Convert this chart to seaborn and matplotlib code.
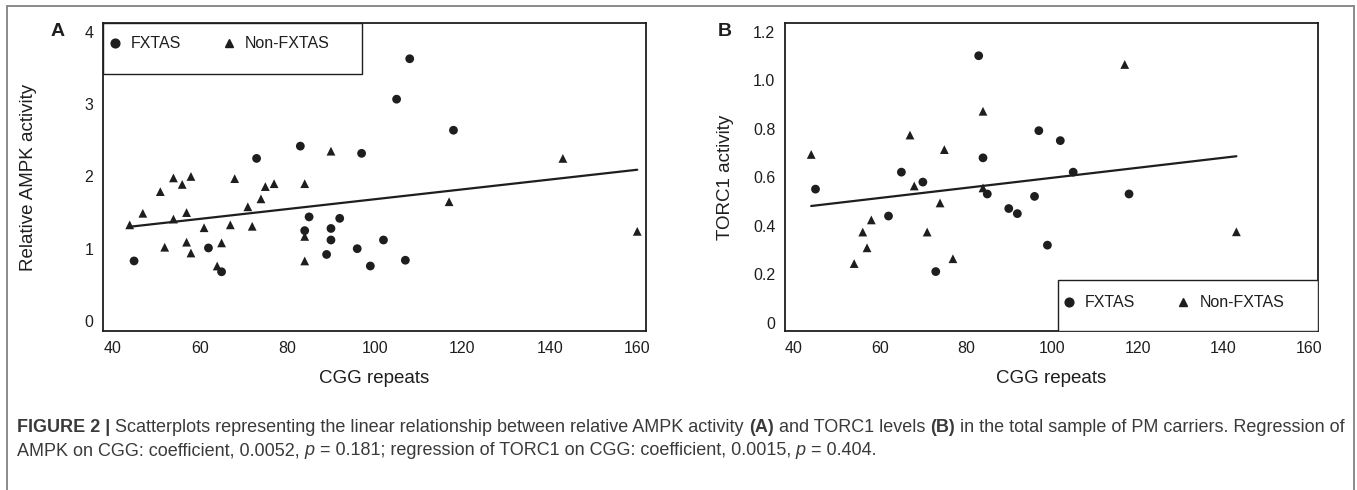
import pandas as pd
import seaborn as sns
from matplotlib import pyplot as plt
from matplotlib.lines import Line2D
from matplotlib.patches import Rectangle

# panel A: relative AMPK activity vs CGG repeats
ampk_fx_cgg = [45, 62, 65, 73, 83, 84, 85, 89, 90, 90, 92, 96, 97, 99, 102, 105, 107, 108, 118]
ampk_fx_val = [0.83, 1.01, 0.68, 2.25, 2.42, 1.25, 1.44, 0.92, 1.28, 1.12, 1.42, 1.00, 2.32, 0.76, 1.12,
               3.07, 0.84, 3.63, 2.64]
ampk_non_cgg = [44, 47, 51, 52, 54, 54, 56, 57, 57, 58, 58, 61, 64, 65, 67, 68, 71, 72, 74, 75, 77, 84, 84, 84,
                90, 117, 143, 160]
ampk_non_val = [1.33, 1.49, 1.79, 1.02, 1.98, 1.41, 1.89, 1.50, 1.09, 2.00, 0.94, 1.29, 0.76, 1.08, 1.33, 1.97,
                1.58, 1.31, 1.69, 1.86, 1.90, 1.90, 1.17, 0.83, 2.35, 1.65, 2.25, 1.24]

# panel B: TORC1 activity vs CGG repeats
torc_fx_cgg = [45, 62, 65, 70, 73, 83, 84, 85, 90, 92, 96, 97, 99, 102, 105, 118]
torc_fx_val = [0.552, 0.441, 0.622, 0.581, 0.212, 1.102, 0.681, 0.532, 0.472, 0.451, 0.522, 0.793, 0.321,
               0.752, 0.622, 0.532]
torc_non_cgg = [44, 54, 56, 57, 58, 67, 68, 71, 74, 75, 77, 84, 84, 117, 143]
torc_non_val = [0.695, 0.245, 0.375, 0.31, 0.425, 0.775, 0.565, 0.375, 0.495, 0.715, 0.265, 0.873, 0.557,
                1.066, 0.376]

groups = ["FXTAS", "Non-FXTAS"]
x_ticks = [40, 60, 80, 100, 120, 140, 160]
ampk_ticks = [0, 1, 2, 3, 4]
torc_ticks = [0, 0.2, 0.4, 0.6, 0.8, 1.0, 1.2]

caption_line1 = [("FIGURE 2 | ", "bold", "normal"),
                 ("Scatterplots representing the linear relationship between relative AMPK activity ", "normal",
                  "normal"),
                 ("(A)", "bold", "normal"),
                 (" and TORC1 levels ", "normal", "normal"),
                 ("(B)", "bold", "normal"),
                 (" in the total sample of PM carriers. Regression of", "normal", "normal")]
caption_line2 = [("AMPK on CGG: coefficient, 0.0052, ", "normal", "normal"),
                 ("p", "normal", "italic"),
                 (" = 0.181; regression of TORC1 on CGG: coefficient, 0.0015, ", "normal", "normal"),
                 ("p", "normal", "italic"),
                 (" = 0.404.", "normal", "normal")]

INK = "#1e1e1e"
W, H = 1357, 490


def make_df(fx_x, fx_y, non_x, non_y):
    return pd.DataFrame({
        "CGG": fx_x + non_x,
        "value": fx_y + non_y,
        "Group": [groups[0]] * len(fx_x) + [groups[1]] * len(non_x),
    })


def draw_panel(ax, df, yticks, ylim, ylabel, ytick_fmt, legend_anchor, legend_box):
    sns.scatterplot(data=df, x="CGG", y="value", style="Group", markers={"FXTAS": "o", "Non-FXTAS": "^"},
                    color=INK, s=40, edgecolor="none", linewidth=0, legend=False, ax=ax)
    sns.regplot(data=df, x="CGG", y="value", scatter=False, ci=None, color=INK,
                line_kws={"linewidth": 1.6}, ax=ax)
    ax.set_xlim(37.9, 162.0)
    ax.set_ylim(*ylim)
    ax.set_xticks(x_ticks)
    ax.set_yticks(yticks)
    ax.set_yticklabels([ytick_fmt(t) for t in yticks])
    ax.tick_params(axis="both", direction="out", length=5, width=1.0, color=INK, labelsize=11.5,
                   labelcolor=INK, pad=2)
    for sp in ax.spines.values():
        sp.set_visible(True)
        sp.set_color(INK)
        sp.set_linewidth(1.3)
    ax.set_xlabel("CGG repeats", fontsize=13.5, color=INK)
    ax.set_ylabel(ylabel, fontsize=13.5, color=INK)
    ax.xaxis.set_label_coords(0.5, -0.127)

    # legend frame drawn on its own, entries placed inside it
    bx, by, bw, bh = legend_box
    ax.add_patch(Rectangle((bx, by), bw, bh, transform=ax.transAxes, facecolor="white",
                           edgecolor=INK, linewidth=1.0, zorder=4))
    handles = [Line2D([], [], marker="o", linestyle="none", color=INK, markersize=6.3),
               Line2D([], [], marker="^", linestyle="none", color=INK, markersize=6.0)]
    leg = ax.legend(handles, groups, ncol=2, loc="center left", bbox_to_anchor=legend_anchor,
                    borderaxespad=0, borderpad=0, frameon=False, fontsize=11.5,
                    handletextpad=0.6, columnspacing=2.6, handlelength=0.8, labelcolor=INK)
    leg.set_zorder(5)


def main():
    sns.set_style("white")
    plt.rcParams["font.family"] = ["Liberation Sans", "DejaVu Sans"]

    fig = plt.figure(figsize=(W / 100, H / 100), dpi=100)
    ax_a = fig.add_axes([103 / W, 1 - 331 / H, 543 / W, 308 / H])
    ax_b = fig.add_axes([785 / W, 1 - 331 / H, 533 / W, 308 / H])

    df_a = make_df(ampk_fx_cgg, ampk_fx_val, ampk_non_cgg, ampk_non_val)
    df_b = make_df(torc_fx_cgg, torc_fx_val, torc_non_cgg, torc_non_val)

    draw_panel(ax_a, df_a, ampk_ticks, (-0.14, 4.125), "Relative AMPK activity", lambda t: f"{t:g}",
               (0.0103, 0.932), (0, 0.834, 0.477, 0.166))
    ax_a.yaxis.set_label_coords(-0.122, 0.5)
    draw_panel(ax_b, df_b, torc_ticks, (-0.033, 1.237), "TORC1 activity",
               lambda t: "0" if t == 0 else f"{t:.1f}", (0.521, 0.091), (0.512, 0, 0.488, 0.166))
    ax_b.yaxis.set_label_coords(-0.095, 0.5)

    fig.text(58 / W, 1 - 32 / H, "A", fontsize=14, fontweight="bold", color=INK, ha="center", va="center")
    fig.text(725 / W, 1 - 32 / H, "B", fontsize=14, fontweight="bold", color=INK, ha="center", va="center")

    # grey frame round the figure (open at the bottom)
    frame_kw = dict(color="#8a8a8a", linewidth=1.4, transform=fig.transFigure)
    fig.add_artist(Line2D([7 / W, 1354 / W], [1 - 6 / H, 1 - 6 / H], **frame_kw))
    fig.add_artist(Line2D([7 / W, 7 / W], [0, 1 - 6 / H], **frame_kw))
    fig.add_artist(Line2D([1354 / W, 1354 / W], [0, 1 - 6 / H], **frame_kw))

    # caption, pieces chained so bold / italic parts follow each other
    cap_kw = dict(fontsize=12.95, color="#3a3a3a")
    for parts, ypix in [(caption_line1, 432), (caption_line2, 455)]:
        last = None
        for txt, weight, style in parts:
            if last is None:
                last = fig.text(17 / W, 1 - ypix / H, txt, fontweight=weight, fontstyle=style,
                                va="baseline", ha="left", **cap_kw)
            else:
                last = plt.annotate(txt, xy=(1, 0), xycoords=last, va="bottom", ha="left",
                                    fontweight=weight, fontstyle=style, annotation_clip=False, **cap_kw)

    fig.savefig("out.png", dpi=100)
    plt.close()


if __name__ == '__main__':
    main()
